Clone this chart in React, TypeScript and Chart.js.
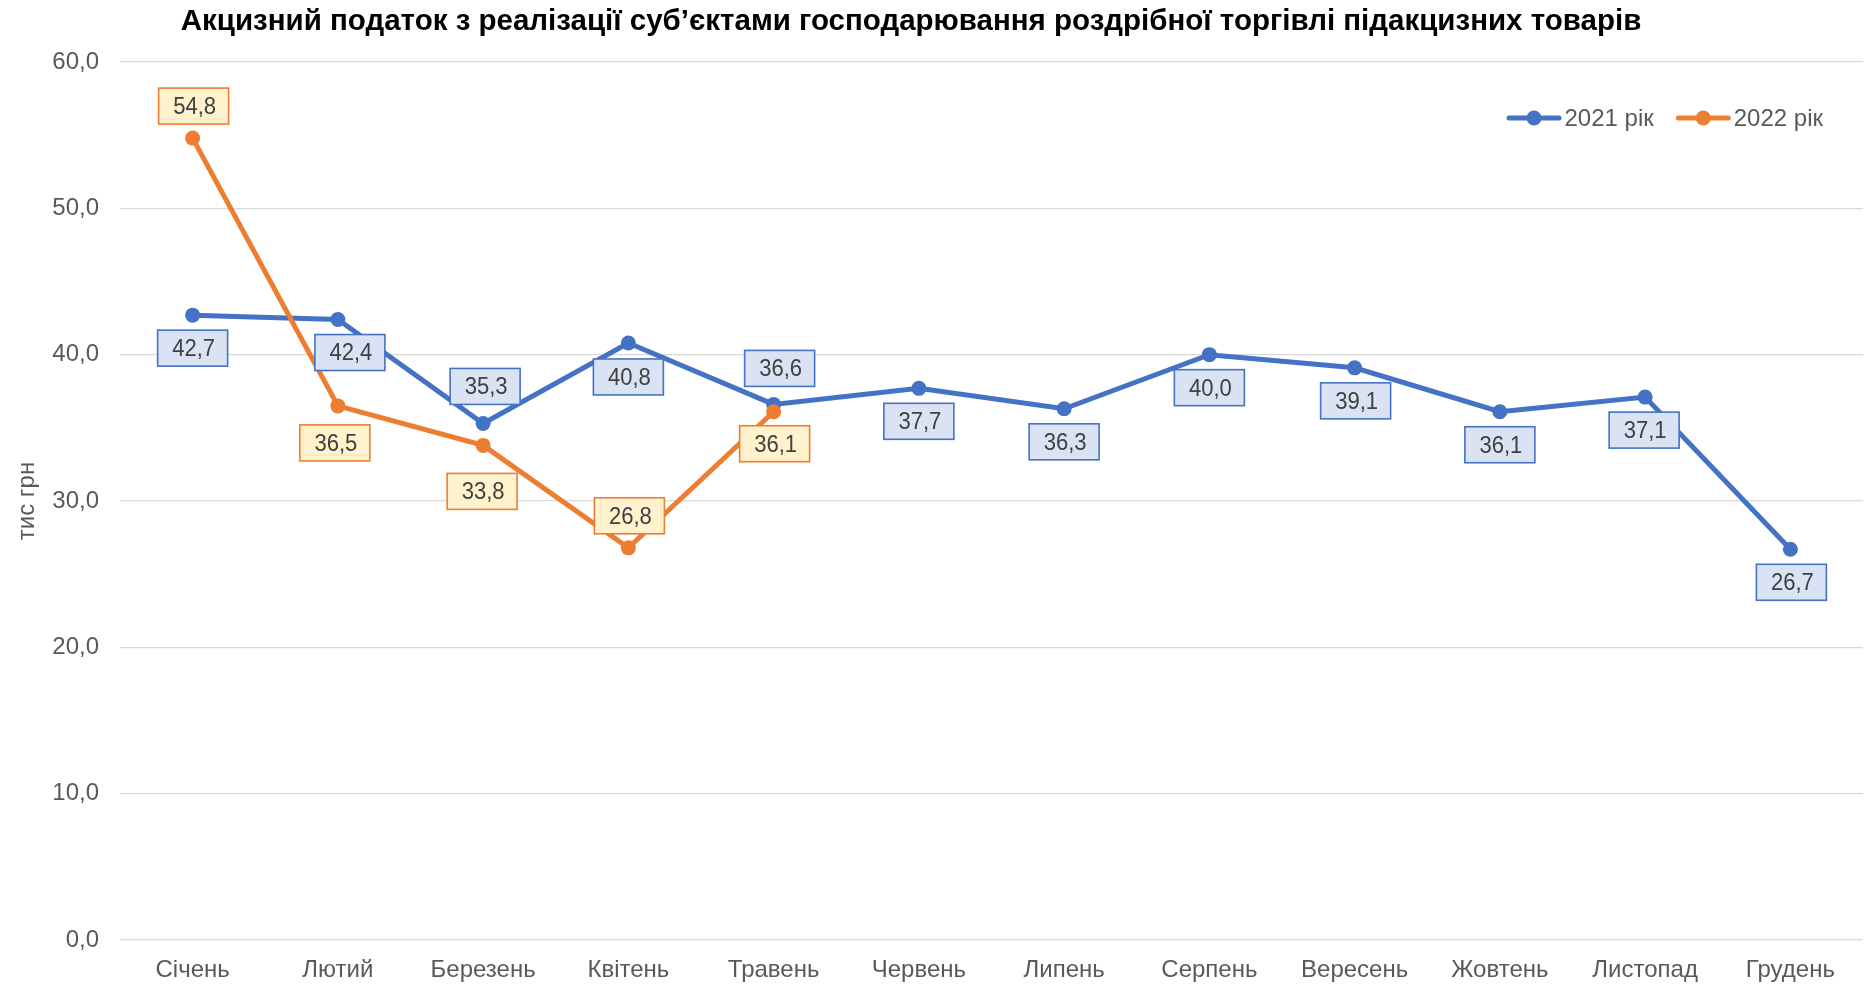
import React, { useEffect, useRef } from 'react';
import { Chart, registerables } from 'chart.js';

Chart.register(...registerables);

const months = ['Січень', 'Лютий', 'Березень', 'Квітень', 'Травень', 'Червень', 'Липень', 'Серпень', 'Вересень', 'Жовтень', 'Листопад', 'Грудень'];
const values2021 = [42.7, 42.4, 35.3, 40.8, 36.6, 37.7, 36.3, 40.0, 39.1, 36.1, 37.1, 26.7];
const values2022 = [54.8, 36.5, 33.8, 26.8, 36.1, null, null, null, null, null, null, null];
const seriesNames = ['2021 рік', '2022 рік'];
const yMin = 0;
const yMax = 60;
const yStep = 10;
const titleText = 'Акцизний податок з реалізації суб’єктами господарювання роздрібної торгівлі підакцизних товарів';
const yTitle = 'тис грн';

// label placement (style only): [dx, dy] relative to each point
const labelShift2021 = [[0, 33], [12, 33], [2, -37], [0, 34], [6, -36], [0, 33], [0, 33], [0, 33], [1, 33], [0, 33], [-1, 33], [1, 33]];
const labelShift2022 = [[1, -32], [-3, 37], [-1, 46], [1, -32], [1, 32]];

const FONT = '"Liberation Sans", Arial, sans-serif';
const BLUE = '#4472C4';
const ORANGE = '#ED7D31';
const TEXT = '#595959';

const fmt = (v: number) => v.toFixed(1).replace('.', ',');

const labelPlugin = {
  id: 'boxLabels',
  afterDatasetsDraw(chart: any) {
    const ctx = chart.ctx;
    const styles = [
      { fill: '#DAE3F3', stroke: BLUE, shifts: labelShift2021 },
      { fill: '#FFF2CC', stroke: ORANGE, shifts: labelShift2022 },
    ];
    ctx.save();
    ctx.font = `23px ${FONT}`;
    ctx.textAlign = 'center';
    ctx.textBaseline = 'middle';
    chart.data.datasets.forEach((ds: any, i: number) => {
      const meta = chart.getDatasetMeta(i);
      const st = styles[i];
      meta.data.forEach((pt: any, j: number) => {
        const v = ds.data[j];
        if (v == null) return;
        const sh = st.shifts[j] || [0, 33];
        const cx = pt.x + sh[0];
        const cy = pt.y + sh[1];
        const w = 70;
        const h = 36;
        ctx.fillStyle = st.fill;
        ctx.fillRect(cx - w / 2, cy - h / 2, w, h);
        ctx.lineWidth = 1.6;
        ctx.strokeStyle = st.stroke;
        ctx.strokeRect(cx - w / 2, cy - h / 2, w, h);
        ctx.fillStyle = '#404040';
        ctx.save();
        ctx.translate(cx + 1, cy + 1);
        ctx.scale(0.96, 1.08);
        ctx.fillText(fmt(v), 0, 0);
        ctx.restore();
      });
    });
    ctx.restore();
  },
};

const legendPlugin = {
  id: 'lineLegend',
  afterDraw(chart: any) {
    const ctx = chart.ctx;
    ctx.save();
    ctx.font = `24px ${FONT}`;
    ctx.textBaseline = 'middle';
    ctx.textAlign = 'left';
    const lineLen = 55;
    const gapText = 3;
    const gapItem = 22;
    const items = chart.data.datasets.map((ds: any) => ({
      label: ds.label,
      color: ds.borderColor,
      w: ctx.measureText(ds.label).width,
    }));
    const total = items.reduce((s: number, it: any) => s + lineLen + gapText + it.w, 0) + gapItem * (items.length - 1);
    let x = 1823 - total;
    const y = 118;
    items.forEach((it: any) => {
      ctx.strokeStyle = it.color;
      ctx.lineWidth = 5;
      ctx.lineCap = 'round';
      ctx.beginPath();
      ctx.moveTo(x + 2.5, y);
      ctx.lineTo(x + lineLen - 2.5, y);
      ctx.stroke();
      ctx.fillStyle = it.color;
      ctx.beginPath();
      ctx.arc(x + lineLen / 2, y, 7.5, 0, Math.PI * 2);
      ctx.fill();
      ctx.fillStyle = TEXT;
      ctx.fillText(it.label, x + lineLen + gapText, y + 1);
      x += lineLen + gapText + it.w + gapItem;
    });
    ctx.restore();
  },
};

export default function App() {
  const ref = useRef<HTMLCanvasElement | null>(null);

  useEffect(() => {
    document.body.style.margin = '0';
    document.body.style.overflow = 'hidden';
    if (!ref.current) return;
    const chart = new Chart(ref.current, {
      type: 'line',
      data: {
        labels: months,
        datasets: [
          {
            label: seriesNames[0],
            data: values2021,
            borderColor: BLUE,
            backgroundColor: BLUE,
            borderWidth: 5,
            pointRadius: 7.5,
            pointBorderWidth: 0,
            pointBackgroundColor: BLUE,
            tension: 0,
            order: 1,
          },
          {
            label: seriesNames[1],
            data: values2022,
            borderColor: ORANGE,
            backgroundColor: ORANGE,
            borderWidth: 5,
            pointRadius: 7.5,
            pointBorderWidth: 0,
            pointBackgroundColor: ORANGE,
            tension: 0,
            spanGaps: false,
            order: 0,
          },
        ],
      },
      options: {
        responsive: false,
        animation: false,
        devicePixelRatio: 1,
        layout: { padding: { left: 0, right: 11, top: 0, bottom: 0 } },
        plugins: {
          legend: { display: false },
          tooltip: { enabled: false },
          title: {
            display: true,
            text: titleText + '     ',
            color: '#000000',
            font: { family: FONT, size: 29.5, weight: 'bold', lineHeight: 1.2 },
            padding: { top: 4, bottom: 22.6 },
          },
        },
        scales: {
          x: {
            offset: true,
            grid: { display: false, drawTicks: false },
            border: { display: false },
            ticks: {
              color: TEXT,
              font: { family: FONT, size: 24 },
              padding: 16,
              maxRotation: 0,
              autoSkip: false,
            },
            afterFit: (scale: any) => {
              scale.height = 44;
            },
          },
          y: {
            min: yMin,
            max: yMax,
            grid: { color: '#D9D9D9', lineWidth: 1.3, drawTicks: false },
            border: { display: false },
            ticks: {
              stepSize: yStep,
              color: TEXT,
              font: { family: FONT, size: 24 },
              padding: 21,
              callback: (v: any) => fmt(Number(v)),
            },
            title: {
              display: true,
              text: yTitle,
              color: TEXT,
              font: { family: FONT, size: 24, lineHeight: 1.2 },
              padding: { top: 13, bottom: 0 },
            },
            afterFit: (scale: any) => {
              scale.width = 120;
            },
          },
        },
      },
      plugins: [labelPlugin, legendPlugin],
    });
    return () => chart.destroy();
  }, []);

  return (
    <div style={{ width: 1874, height: 984 }}>
      <canvas ref={ref} width={1874} height={984} style={{ display: 'block' }} />
    </div>
  );
}
